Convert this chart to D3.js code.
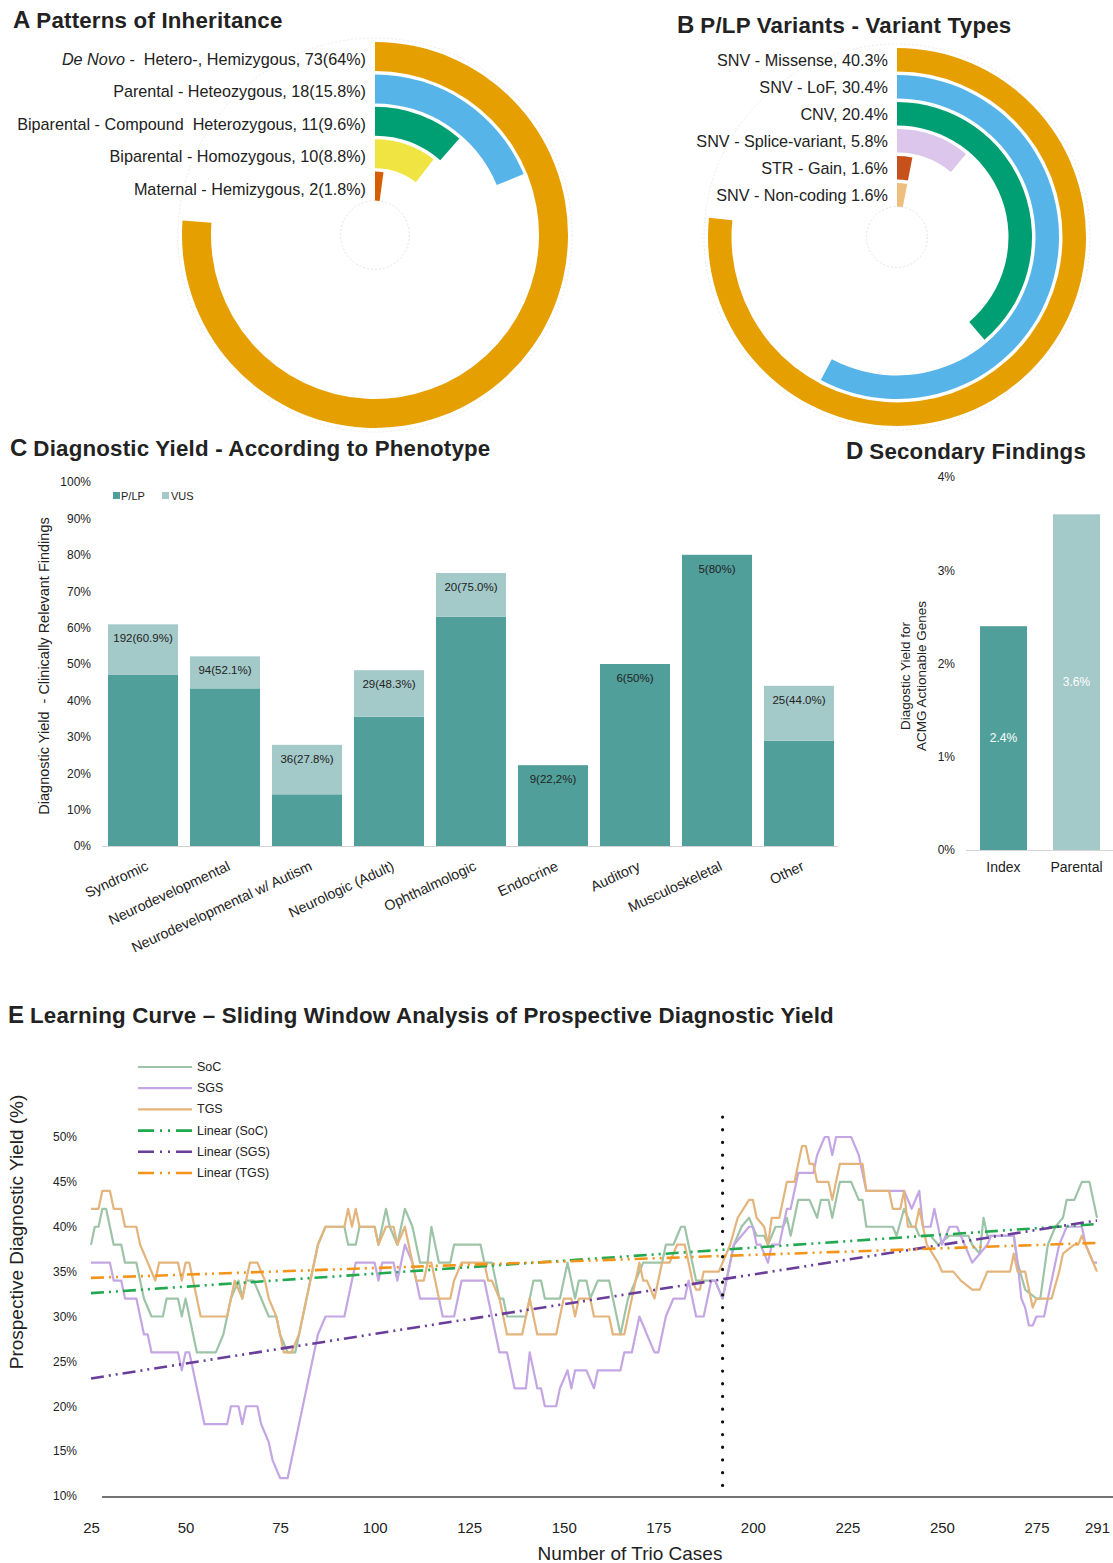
<!DOCTYPE html>
<html><head><meta charset="utf-8">
<script src="https://cdn.jsdelivr.net/npm/d3@7"></script>
<style>
body{margin:0;background:#fff;}
svg text{font-family:"Liberation Sans",Arial,Helvetica,sans-serif;fill:#222;}
.narrow{font-family:"Liberation Sans Narrow","Arial Narrow","Liberation Sans",sans-serif;}
.pre{white-space:pre;}
</style></head><body>
<svg id="fig" width="1113" height="1563"></svg>
<script>
// ---------- Panel A: patterns of inheritance ----------
const inheritNames = ["De Novo -  Hetero-, Hemizygous", "Parental - Heteozygous", "Biparental - Compound  Heterozygous", "Biparental - Homozygous", "Maternal - Hemizygous"];
const inheritCounts = [73, 18, 11, 10, 2];
const inheritPct = [64, 15.8, 9.6, 8.8, 1.8];
const inheritColors = ["#E69F00", "#56B4E9", "#009E73", "#F0E442", "#D55E00"];
const inheritAxisMax = 84;

// ---------- Panel B: P/LP variant types ----------
const variantNames = ["SNV - Missense,", "SNV - LoF,", "CNV,", "SNV - Splice-variant,", "STR - Gain,", "SNV - Non-coding"];
const variantPct = [40.3, 30.4, 20.4, 5.8, 1.6, 1.6];
const variantColors = ["#E69F00", "#56B4E9", "#009E73", "#DCC6EC", "#C8501A", "#EDBE7E"];
const variantAxisMax = 52.6;

// ---------- Panel C: yield by phenotype ----------
const phenotypes = ["Syndromic", "Neurodevelopmental", "Neurodevelopmental w/ Autism", "Neurologic (Adult)", "Ophthalmologic", "Endocrine", "Auditory", "Musculoskeletal", "Other"];
const phenoN = [192, 94, 36, 29, 20, 9, 6, 5, 25];
const phenoYield = [60.9, 52.1, 27.8, 48.3, 75.0, 22.2, 50, 80, 44.0];
const phenoPLP = [47.0, 43.3, 14.2, 35.5, 63.0, 22.2, 50, 80, 28.9];
const phenoLabels = ["192(60.9%)", "94(52.1%)", "36(27.8%)", "29(48.3%)", "20(75.0%)", "9(22,2%)", "6(50%)", "5(80%)", "25(44.0%)"];
const yieldTicks = [0, 10, 20, 30, 40, 50, 60, 70, 80, 90, 100];

// ---------- Panel D: secondary findings ----------
const sfGroups = ["Index", "Parental"];
const sfYield = [2.4, 3.6];
const sfTicks = [0, 1, 2, 3, 4];

// ---------- Panel E: sliding-window yield (case number, yield %) ----------
const socCurve = [[25,38],[26,40],[27,40],[28,42],[29,42],[30,40],[31,38],[33,38],[34,36],[37,36],[38,34],[39,32],[41,30],[44,30],[45,32],[48,32],[49,30],[50,32],[51,30],[52,28],[53,26],[58,26],[60,28],[61,30],[62,32],[64,34],[65,32],[66,34],[68,34],[70,32],[72,30],[74,30],[75,28],[77,26],[79,26],[80,28],[81,30],[82,32],[83,34],[84,36],[85,38],[87,40],[92,40],[93,38],[95,38],[96,40],[100,40],[101,38],[103,42],[104,40],[106,38],[108,42],[110,40],[111,38],[112,36],[114,36],[115,40],[116,38],[117,36],[120,36],[121,38],[128,38],[129,36],[131,36],[132,34],[133,32],[134,32],[135,30],[140,30],[141,32],[142,34],[144,34],[145,32],[149,32],[151,36],[153,32],[154,34],[156,34],[157,32],[159,34],[162,34],[163,32],[164,30],[165,28],[166,30],[167,32],[169,34],[171,36],[176,36],[177,38],[179,38],[181,40],[182,40],[183,38],[184,36],[185,34],[190,34],[192,32],[193,34],[195,38],[197,40],[199,41],[200,40],[201,39],[203,39],[204,38],[206,40],[208,40],[209,41],[210,39],[212,43],[215,43],[217,41],[218,43],[220,43],[221,41],[223,45],[226,45],[228,43],[229,43],[230,40],[237,40],[238,39],[240,42],[242,40],[243,40],[244,39],[247,39],[249,38],[252,39],[257,39],[258,38],[260,37],[261,41],[262,39],[269,39],[270,36],[272,33],[275,32],[276,32],[278,38],[280,40],[282,41],[283,43],[285,43],[287,45],[289,45],[291,41]];
const sgsCurve = [[25,36],[30,36],[31,34],[33,34],[34,32],[37,32],[38,30],[39,28],[40,28],[41,26],[48,26],[49,24],[50,26],[51,26],[52,24],[53,22],[54,20],[55,18],[61,18],[62,20],[64,20],[65,18],[66,20],[69,20],[70,18],[72,16],[73,14],[75,12],[77,12],[78,14],[79,16],[80,18],[81,20],[82,22],[83,24],[84,26],[85,28],[87,30],[92,30],[93,32],[94,34],[95,36],[100,36],[101,34],[102,36],[105,36],[106,34],[108,38],[110,36],[111,34],[112,32],[117,32],[118,30],[121,30],[122,32],[123,34],[129,34],[130,32],[131,30],[132,28],[133,26],[135,26],[136,24],[137,22],[140,22],[141,26],[142,24],[143,22],[144,22],[145,20],[148,20],[149,22],[151,24],[152,22],[153,24],[156,24],[158,22],[159,24],[165,24],[166,26],[168,26],[170,30],[171,29],[172,28],[174,26],[175,26],[177,30],[179,32],[182,32],[183,34],[184,32],[185,30],[187,30],[188,32],[189,34],[190,34],[192,32],[193,34],[195,38],[197,39],[199,40],[200,40],[201,38],[202,38],[204,36],[205,38],[207,38],[209,42],[210,42],[212,46],[216,46],[217,48],[219,50],[220,50],[221,48],[222,50],[226,50],[228,48],[230,44],[240,44],[242,42],[244,44],[245,40],[247,40],[248,42],[249,40],[250,38],[252,40],[254,40],[256,38],[258,36],[260,37],[262,38],[263,39],[269,39],[270,36],[271,32],[272,31],[273,29],[274,29],[275,30],[277,30],[279,34],[281,38],[283,40],[287,40],[288,38],[290,36],[291,36]];
const tgsCurve = [[25,42],[27,42],[28,44],[30,44],[31,42],[33,42],[34,40],[37,40],[38,38],[40,36],[42,34],[43,36],[48,36],[49,34],[50,36],[51,36],[52,34],[53,32],[54,30],[61,30],[62,32],[63,34],[65,32],[66,34],[67,36],[69,36],[71,34],[72,32],[74,30],[75,28],[76,26],[78,26],[80,28],[81,30],[82,32],[83,34],[84,36],[85,38],[87,40],[92,40],[93,42],[94,40],[95,42],[96,40],[100,40],[101,38],[103,40],[105,40],[106,38],[108,40],[109,38],[110,36],[111,34],[113,34],[114,36],[115,36],[116,34],[117,32],[120,32],[121,34],[123,36],[129,36],[130,34],[131,34],[133,32],[134,30],[135,28],[139,28],[140,30],[141,32],[142,30],[143,28],[148,28],[149,30],[150,32],[152,32],[153,30],[154,32],[157,32],[158,30],[162,30],[163,28],[166,28],[167,30],[168,32],[169,34],[170,36],[171,34],[172,34],[174,32],[175,34],[176,36],[178,36],[180,38],[182,38],[184,34],[185,33],[186,33],[187,35],[191,35],[192,36],[194,38],[196,41],[199,43],[200,43],[201,41],[203,40],[204,38],[205,41],[207,41],[208,43],[209,45],[211,45],[213,49],[214,49],[215,47],[216,47],[217,45],[220,45],[221,43],[222,45],[223,47],[229,47],[230,44],[236,44],[237,42],[239,42],[240,44],[241,40],[243,40],[244,42],[246,38],[249,36],[250,35],[253,35],[255,34],[258,33],[260,33],[262,35],[268,35],[269,37],[270,35],[272,35],[273,33],[274,31],[275,32],[279,32],[281,35],[282,37],[285,38],[286,38],[287,39],[289,37],[291,35]];
// linear trend end values at the first and last case
const trendCases = [25, 291];
const socTrend = [32.6, 40.3];
const sgsTrend = [23.1, 40.7];
const tgsTrend = [34.3, 38.2];
const caseTicks = [25, 50, 75, 100, 125, 150, 175, 200, 225, 250, 275, 291];
const prospTicks = [10, 15, 20, 25, 30, 35, 40, 45, 50];
const switchCase = 192;

const svg = d3.select("#fig");
svg.append("rect").attr("width", 1113).attr("height", 1563).attr("fill", "#fff");

function panelTitle(x, y, letter, text) {
  const t = svg.append("text").attr("x", x).attr("y", y).attr("font-weight", "bold");
  t.append("tspan").attr("font-size", 24).text(letter);
  t.append("tspan").attr("font-size", 22.3).attr("letter-spacing", 0.2).attr("dx", 6).text(text);
}

// ---------- radial bars ----------
function radialBars(cx, cy, names, values, colors, axisMax, rOuter, thick, step, labelText, italicPrefix) {
  const g = svg.append("g").attr("transform", `translate(${cx},${cy})`);
  const ang = d3.scaleLinear().domain([0, axisMax]).range([0, 2 * Math.PI]);
  // faint grid rings
  g.append("circle").attr("r", rOuter + 4).attr("fill", "none").attr("stroke", "#ececec").attr("stroke-dasharray", "2,2");
  g.append("circle").attr("r", rOuter - (values.length - 1) * step - thick).attr("fill", "none").attr("stroke", "#e4e4e4").attr("stroke-dasharray", "2,2");
  values.forEach((v, i) => {
    const outer = rOuter - i * step, inner = outer - thick;
    const arc = d3.arc().innerRadius(inner).outerRadius(outer).startAngle(0).endAngle(ang(v));
    g.append("path").attr("d", arc()).attr("fill", colors[i]);
    const t = g.append("text").attr("class", "pre").attr("x", -9).attr("y", -(outer + inner) / 2 + (italicPrefix ? 2.5 : 0.5))
      .attr("text-anchor", "end").attr("dominant-baseline", "central").attr("font-size", 16.2);
    const s = labelText(i);
    if (italicPrefix && s.startsWith(italicPrefix)) {
      t.append("tspan").attr("font-style", "italic").text(italicPrefix);
      t.append("tspan").text(s.slice(italicPrefix.length));
    } else t.text(s);
  });
}

panelTitle(13, 28, "A", "Patterns of Inheritance");
radialBars(375, 235, inheritNames, inheritPct, inheritColors, inheritAxisMax, 193, 29, 32.4,
  i => `${inheritNames[i]}, ${inheritCounts[i]}(${inheritPct[i]}%)`, "De Novo");

panelTitle(677, 33, "B", "P/LP Variants - Variant Types");
radialBars(897, 237, variantNames, variantPct, variantColors, variantAxisMax, 189, 23.5, 27,
  i => `${variantNames[i]} ${variantPct[i].toFixed(1)}%`, null);

// ---------- Panel C ----------
panelTitle(10, 456, "C", "Diagnostic Yield - According to Phenotype");
const cTeal = "#519F9B", cLight = "#A3C9C8";
{
  const x = d3.scaleBand().domain(phenotypes).range([102, 840]).paddingInner(0.146).paddingOuter(0.073);
  const y = d3.scaleLinear().domain([0, 100]).range([846, 482]);
  const g = svg.append("g");
  const yAx = g.append("g").attr("transform", "translate(94,0)")
    .call(d3.axisLeft(y).tickValues(yieldTicks).tickFormat(d => d + "%").tickSize(0).tickPadding(3));
  yAx.select(".domain").remove();
  yAx.selectAll("text").attr("font-size", 12).attr("fill", "#222");
  g.append("line").attr("x1", 102).attr("x2", 838).attr("y1", 846.5).attr("y2", 846.5).attr("stroke", "#d4d4d4").attr("stroke-width", 1.2);
  phenotypes.forEach((p, i) => {
    g.append("rect").attr("x", x(p)).attr("width", x.bandwidth()).attr("y", y(phenoPLP[i])).attr("height", y(0) - y(phenoPLP[i])).attr("fill", cTeal);
    if (phenoYield[i] > phenoPLP[i])
      g.append("rect").attr("x", x(p)).attr("width", x.bandwidth()).attr("y", y(phenoYield[i])).attr("height", y(phenoPLP[i]) - y(phenoYield[i])).attr("fill", cLight);
    g.append("text").attr("class", "narrow").attr("x", x(p) + x.bandwidth() / 2).attr("y", y(phenoYield[i]) + 14)
      .attr("text-anchor", "middle").attr("dominant-baseline", "central").attr("font-size", 11.5).text(phenoLabels[i]);
  });
  const xAx = g.append("g").attr("transform", "translate(0,846)").call(d3.axisBottom(x).tickSize(0));
  xAx.select(".domain").remove();
  xAx.selectAll("text").attr("font-size", 14.3).attr("fill", "#222").attr("text-anchor", "end")
    .attr("x", 0).attr("y", 0).attr("dy", "0.35em").attr("transform", "translate(4,19) rotate(-25)");
  // legend
  g.append("rect").attr("x", 113).attr("y", 492).attr("width", 7).attr("height", 7).attr("fill", cTeal);
  g.append("text").attr("x", 121).attr("y", 496).attr("dominant-baseline", "central").attr("font-size", 11).text("P/LP");
  g.append("rect").attr("x", 162).attr("y", 492).attr("width", 7).attr("height", 7).attr("fill", cLight);
  g.append("text").attr("x", 171).attr("y", 496).attr("dominant-baseline", "central").attr("font-size", 11).text("VUS");
  g.append("text").attr("transform", "translate(49,666) rotate(-90)").attr("text-anchor", "middle").attr("class", "pre")
    .attr("font-size", 14.5).text("Diagnostic Yield  - Clinically Relevant Findings");
}

// ---------- Panel D ----------
panelTitle(846, 459, "D", "Secondary Findings");
{
  const x = d3.scaleBand().domain(sfGroups).range([965, 1115]).paddingInner(0.356).paddingOuter(0.205);
  const y = d3.scaleLinear().domain([0, 4]).range([850, 477]);
  const g = svg.append("g");
  const yAx = g.append("g").attr("transform", "translate(958,0)")
    .call(d3.axisLeft(y).tickValues(sfTicks).tickFormat(d => d + "%").tickSize(0).tickPadding(3));
  yAx.select(".domain").remove();
  yAx.selectAll("text").attr("font-size", 12).attr("fill", "#222");
  g.append("line").attr("x1", 966).attr("x2", 1113).attr("y1", 850.5).attr("y2", 850.5).attr("stroke", "#d4d4d4").attr("stroke-width", 1.2);
  const cols = [cTeal, cLight];
  sfGroups.forEach((s, i) => {
    g.append("rect").attr("x", x(s)).attr("width", x.bandwidth()).attr("y", y(sfYield[i])).attr("height", y(0) - y(sfYield[i])).attr("fill", cols[i]);
    g.append("text").attr("x", x(s) + x.bandwidth() / 2).attr("y", (y(sfYield[i]) + y(0)) / 2).attr("text-anchor", "middle")
      .attr("dominant-baseline", "central").attr("font-size", 12).style("fill", "#fff").text(sfYield[i] + "%");
  });
  const xAx = g.append("g").attr("transform", "translate(0,850)").call(d3.axisBottom(x).tickSize(0).tickPadding(12));
  xAx.select(".domain").remove();
  xAx.selectAll("text").attr("font-size", 14).attr("fill", "#222");
  const yl = g.append("text").attr("transform", "translate(910,676) rotate(-90)").attr("text-anchor", "middle").attr("font-size", 13.5);
  yl.append("tspan").attr("x", 0).attr("dy", 0).text("Diagostic Yield for");
  yl.append("tspan").attr("x", 0).attr("dy", 16).text("ACMG Actionable Genes");
}

// ---------- Panel E ----------
panelTitle(8, 1023, "E", "Learning Curve \u2013 Sliding Window Analysis of Prospective Diagnostic Yield");
{
  const x = d3.scaleLinear().domain([25, 291]).range([91, 1097]);
  const y = d3.scaleLinear().domain([10, 50]).range([1496, 1137]);
  const g = svg.append("g");
  const yAx = g.append("g").attr("transform", "translate(80,0)")
    .call(d3.axisLeft(y).tickValues(prospTicks).tickFormat(d => d + "%").tickSize(0).tickPadding(3));
  yAx.select(".domain").remove();
  yAx.selectAll("text").attr("font-size", 12).attr("fill", "#222");
  const xAx = g.append("g").attr("transform", "translate(0,1497)").call(d3.axisBottom(x).tickValues(caseTicks).tickSize(0));
  xAx.select(".domain").remove();
  xAx.selectAll("text").attr("font-size", 15).attr("fill", "#222").attr("y", 31).attr("dy", "0.35em");
  g.append("line").attr("x1", 102).attr("x2", 1113).attr("y1", 1497).attr("y2", 1497).attr("stroke", "#444").attr("stroke-width", 1.6);
  g.append("text").attr("x", 630).attr("y", 1553).attr("text-anchor", "middle").attr("dominant-baseline", "central").attr("font-size", 19).text("Number of Trio Cases");
  g.append("text").attr("transform", "translate(16,1232) rotate(-90)").attr("text-anchor", "middle").attr("dominant-baseline", "central")
    .attr("font-size", 19).text("Prospective Diagnostic Yield (%)");

  const line = d3.line().x(d => x(d[0])).y(d => y(d[1]));
  const trendDash = "13,5,2,5,2,5";
  const series = [
    { name: "SoC", data: socCurve, color: "#9EC4A8" },
    { name: "SGS", data: sgsCurve, color: "#C4A6E4" },
    { name: "TGS", data: tgsCurve, color: "#E3B47C" }
  ];
  const trends = [
    { name: "Linear (SoC)", vals: socTrend, color: "#22A84F" },
    { name: "Linear (SGS)", vals: sgsTrend, color: "#6A3D9A" },
    { name: "Linear (TGS)", vals: tgsTrend, color: "#F39419" }
  ];
  series.forEach(s => g.append("path").attr("d", line(s.data)).attr("fill", "none").attr("stroke", s.color).attr("stroke-width", 2.2).attr("stroke-linejoin", "round"));
  trends.forEach(t => g.append("path").attr("d", line(trendCases.map((c, i) => [c, t.vals[i]])))
    .attr("fill", "none").attr("stroke", t.color).attr("stroke-width", 2.6).attr("stroke-dasharray", trendDash));
  // window boundary marker
  g.append("line").attr("x1", x(switchCase)).attr("x2", x(switchCase)).attr("y1", 1117).attr("y2", 1497)
    .attr("stroke", "#111").attr("stroke-width", 3.2).attr("stroke-linecap", "round").attr("stroke-dasharray", "0.1,12.6");

  // legend
  const leg = series.map(s => ({ name: s.name, color: s.color, dash: null, w: 2.2 }))
    .concat(trends.map(t => ({ name: t.name, color: t.color, dash: "16,6,2,6,2,6", w: 2.6 })));
  leg.forEach((l, i) => {
    const yy = 1067 + i * 21.2;
    g.append("line").attr("x1", 138).attr("x2", 192).attr("y1", yy).attr("y2", yy).attr("stroke", l.color).attr("stroke-width", l.w)
      .attr("stroke-dasharray", l.dash);
    g.append("text").attr("x", 197).attr("y", yy).attr("dominant-baseline", "central").attr("font-size", 12.5).text(l.name);
  });
}
</script></body></html>
